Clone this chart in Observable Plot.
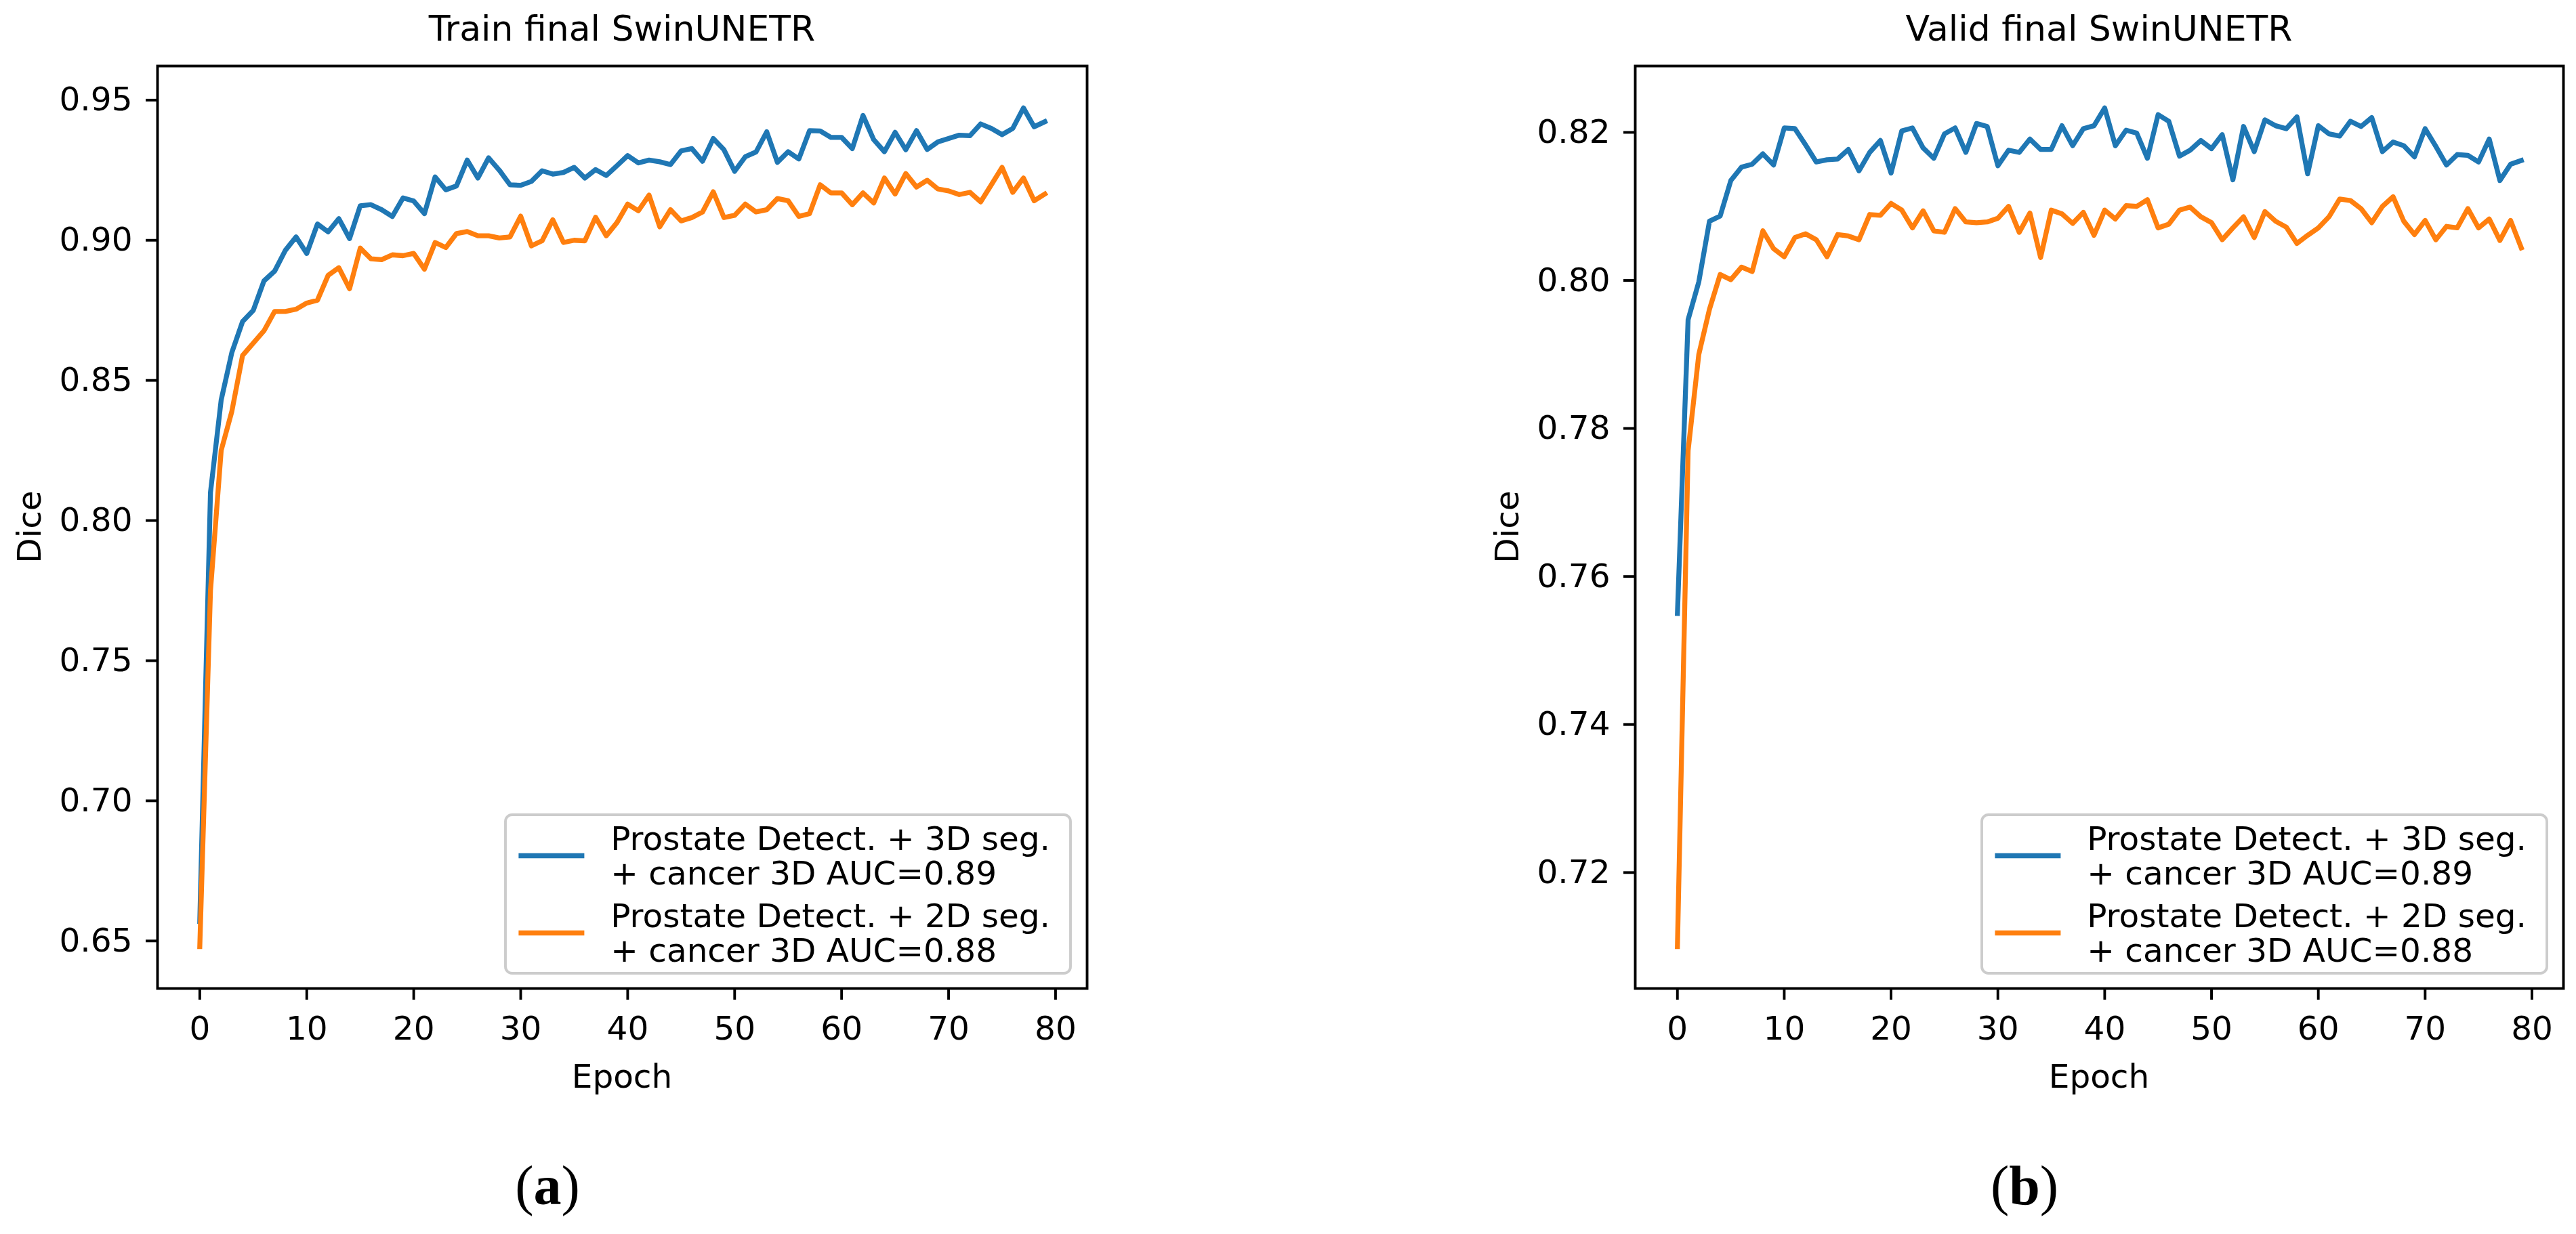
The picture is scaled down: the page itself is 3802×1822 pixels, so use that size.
<!DOCTYPE html>
<html>
<head>
<meta charset="utf-8">
<script src="https://cdn.jsdelivr.net/npm/d3@7"></script>
<script src="https://cdn.jsdelivr.net/npm/@observablehq/plot@0.6"></script>
<style>
  html, body { margin: 0; padding: 0; background: #ffffff; }
  #page { position: relative; width: 3802px; height: 1822px; overflow: hidden; background: #ffffff; font-family: "DejaVu Sans", sans-serif; }
  .panel { position: absolute; top: 0; }
  #overlay { position: absolute; left: 0; top: 0; }
</style>
</head>
<body>
<div id="page"></div>
<script>
// ---------------- DATA ----------------
const panelTitles = ["Train final SwinUNETR", "Valid final SwinUNETR"];
const captions = ["a", "b"];
const yLabel = "Dice";
const xLabel = "Epoch";
const seriesLabels = [
  ["Prostate Detect. + 3D seg.", "+ cancer 3D AUC=0.89"],
  ["Prostate Detect. + 2D seg.", "+ cancer 3D AUC=0.88"]
];
const seriesColors = ["#1f77b4", "#ff7f0e"];
const xTicks = [0, 10, 20, 30, 40, 50, 60, 70, 80];
const trainYTicks = [0.65, 0.70, 0.75, 0.80, 0.85, 0.90, 0.95];
const validYTicks = [0.72, 0.74, 0.76, 0.78, 0.80, 0.82];

// Train, 3D seg (blue), epochs 0..79
const trainDice3D = [
  0.657, 0.810, 0.843, 0.860, 0.871, 0.875, 0.8855, 0.889, 0.8964, 0.9012,
  0.8953, 0.9058, 0.903, 0.9077, 0.9006, 0.9123, 0.9127, 0.9109, 0.9085, 0.9151,
  0.914, 0.9095, 0.9226, 0.918, 0.9194, 0.9286, 0.9222, 0.9294, 0.925, 0.9198,
  0.9196, 0.921, 0.9248, 0.9236, 0.9242, 0.926, 0.9222, 0.9252, 0.9231, 0.9266,
  0.9302, 0.9276, 0.9286, 0.9280, 0.9270, 0.9319, 0.9327, 0.9282, 0.9363, 0.9323,
  0.9246, 0.9298, 0.9315, 0.9387, 0.9278, 0.9316, 0.9290, 0.9391, 0.9390, 0.9367,
  0.9367, 0.9327, 0.9445, 0.9359, 0.9316, 0.9385, 0.9323, 0.9391, 0.9324, 0.9351,
  0.9363, 0.9375, 0.9373, 0.9415, 0.9399, 0.9377, 0.9399, 0.9472, 0.9405, 0.9423
];
// Train, 2D seg (orange)
const trainDice2D = [
  0.648, 0.775, 0.825, 0.839, 0.8589, 0.8633, 0.8677, 0.8746, 0.8746, 0.8754,
  0.8776, 0.8786, 0.8875, 0.8902, 0.8827, 0.8972, 0.8934, 0.8931, 0.8948, 0.8945,
  0.8953, 0.8897, 0.8992, 0.8974, 0.9024, 0.9031, 0.9016, 0.9016, 0.9008, 0.9012,
  0.9086, 0.898, 0.8998, 0.9073, 0.8992, 0.900, 0.8998, 0.9082, 0.9016, 0.9063,
  0.9129, 0.9105, 0.9161, 0.9048, 0.9109, 0.9069, 0.9081, 0.9101, 0.9173, 0.9081,
  0.9089, 0.9129, 0.9101, 0.9109, 0.9149, 0.9141, 0.9085, 0.9095, 0.9198, 0.9169,
  0.9169, 0.9127, 0.9169, 0.9133, 0.9222, 0.9165, 0.9238, 0.9190, 0.9214, 0.9183,
  0.9176, 0.9163, 0.9171, 0.9137, 0.9198, 0.9260, 0.9171, 0.9222, 0.9141, 0.9165
];
// Valid, 3D seg (blue)
const validDice3D = [
  0.755, 0.7947, 0.7998, 0.8080, 0.8087, 0.8135, 0.8153, 0.8157, 0.8171, 0.8156,
  0.8206, 0.8205, 0.8183, 0.8160, 0.8163, 0.8164, 0.8177, 0.8148, 0.8173, 0.8189,
  0.8145, 0.8202, 0.8206, 0.8179, 0.8165, 0.8198, 0.8206, 0.8173, 0.8212, 0.8208,
  0.8155, 0.8176, 0.8173, 0.8191, 0.8177, 0.8177, 0.8209, 0.8182, 0.8205, 0.8209,
  0.8233, 0.8182, 0.8203, 0.8199, 0.8165, 0.8224, 0.8215, 0.8168, 0.8176, 0.8189,
  0.8178, 0.8197, 0.8136, 0.8208, 0.8174, 0.8217, 0.8209, 0.8205, 0.8221, 0.8144,
  0.8209, 0.8198, 0.8195, 0.8215, 0.8208, 0.8220, 0.8174, 0.8187, 0.8182, 0.8167,
  0.8205, 0.8181, 0.8156, 0.8170, 0.8169, 0.8160, 0.8191, 0.8135, 0.8157, 0.8162
];
// Valid, 2D seg (orange)
const validDice2D = [
  0.710, 0.777, 0.790, 0.7961, 0.8008, 0.8001, 0.8018, 0.8012, 0.8067, 0.8043,
  0.8032, 0.8058, 0.8063, 0.8055, 0.8032, 0.8062, 0.8060, 0.8055, 0.8089, 0.8088,
  0.8104, 0.8095, 0.8071, 0.8094, 0.8067, 0.8065, 0.8097, 0.8079, 0.8078, 0.8079,
  0.8084, 0.8100, 0.8065, 0.8091, 0.8031, 0.8095, 0.8090, 0.8077, 0.8092, 0.8061,
  0.8095, 0.8083, 0.8101, 0.8100, 0.8109, 0.8071, 0.8076, 0.8095, 0.8099, 0.8086,
  0.8078, 0.8055, 0.8071, 0.8086, 0.8058, 0.8093, 0.8080, 0.8072, 0.8050, 0.8061,
  0.8071, 0.8086, 0.8110, 0.8108, 0.8097, 0.8078, 0.8100, 0.8113, 0.8080, 0.8062,
  0.8081, 0.8055, 0.8073, 0.8071, 0.8097, 0.8071, 0.8083, 0.8054, 0.8081, 0.8044
];

// ---------------- LAYOUT / STYLE ----------------
const FONT = 48.5, TITLE_FONT = 52, LINE_W = 7.3, SPINE_W = 3.9, TICK_LEN = 17;
const FRAME_T = 97, FRAME_B = 1459;
const panels = [
  { svgLeft: 0,    svgWidth: 1750, frameL: 232,  frameR: 1604, series: [trainDice3D, trainDice2D], yTicks: trainYTicks },
  { svgLeft: 2150, svgWidth: 1652, frameL: 2413, frameR: 3783, series: [validDice3D, validDice2D], yTicks: validYTicks }
];
const PAGE_W = 3802, PAGE_H = 1822;

function paddedExtent(values) {
  const [a, b] = d3.extent(values);
  const p = (b - a) * 0.05;
  return [a - p, b + p];
}

const page = document.getElementById("page");

panels.forEach((pn, pi) => {
  const rows = [];
  pn.series.forEach((vals, si) => vals.forEach((v, i) => rows.push({ epoch: i, dice: v, s: si })));
  const xDomain = paddedExtent(rows.map(r => r.epoch));
  const yDomain = paddedExtent(rows.map(r => r.dice));

  const chart = Plot.plot({
    width: pn.svgWidth,
    height: PAGE_H,
    marginLeft: pn.frameL - pn.svgLeft,
    marginRight: pn.svgLeft + pn.svgWidth - pn.frameR,
    marginTop: FRAME_T,
    marginBottom: PAGE_H - FRAME_B,
    style: { fontFamily: "DejaVu Sans, sans-serif", fontSize: FONT + "px", color: "#000", background: "transparent", overflow: "visible" },
    x: { domain: xDomain, nice: false, label: null },
    y: { domain: yDomain, nice: false, label: null },
    marks: [
      ...pn.series.map((vals, si) => Plot.line(rows.filter(r => r.s === si), {
        x: "epoch", y: "dice", stroke: seriesColors[si], strokeWidth: LINE_W,
        strokeLinejoin: "round", strokeLinecap: "square"
      })),
      Plot.axisX({ ticks: xTicks, tickSize: TICK_LEN, tickPadding: 24, strokeWidth: SPINE_W, label: null, tickFormat: d => String(d), fontSize: FONT }),
      Plot.axisY({ ticks: pn.yTicks, tickSize: TICK_LEN, tickPadding: 20, strokeWidth: SPINE_W, label: null, tickFormat: d3.format(".2f"), fontSize: FONT }),
      Plot.frame({ stroke: "#000", strokeWidth: SPINE_W })
    ]
  });
  const wrap = document.createElement("div");
  wrap.className = "panel";
  wrap.style.left = pn.svgLeft + "px";
  wrap.appendChild(chart);
  page.appendChild(wrap);
});

// ---------------- OVERLAY TEXT & LEGENDS ----------------
const NS = "http://www.w3.org/2000/svg";
const ov = document.createElementNS(NS, "svg");
ov.setAttribute("id", "overlay");
ov.setAttribute("width", PAGE_W);
ov.setAttribute("height", PAGE_H);
ov.setAttribute("font-family", "DejaVu Sans, sans-serif");
page.appendChild(ov);

function el(name, attrs, parent) {
  const e = document.createElementNS(NS, name);
  for (const k in attrs) e.setAttribute(k, attrs[k]);
  (parent || ov).appendChild(e);
  return e;
}
function txt(str, attrs) {
  const t = el("text", attrs);
  t.textContent = str;
  return t;
}

panels.forEach((pn, pi) => {
  const cx = (pn.frameL + pn.frameR) / 2;
  // title
  txt(panelTitles[pi], { x: cx, y: FRAME_T - 37, "text-anchor": "middle", "font-size": TITLE_FONT, fill: "#000" });
  // y label
  const yl = pn.frameL - 172, ym = (FRAME_T + FRAME_B) / 2;
  txt(yLabel, { x: 0, y: 0, transform: `translate(${yl},${ym}) rotate(-90)`, "text-anchor": "middle", "font-size": FONT, fill: "#000" });
  // x label
  txt(xLabel, { x: cx, y: FRAME_B + 147, "text-anchor": "middle", "font-size": FONT, fill: "#000" });
  // caption
  const cap = el("text", { x: cx - 110, y: 1778, "text-anchor": "middle", "font-size": 82, "font-family": "Liberation Serif, serif", fill: "#000" });
  const t1 = el("tspan", {}, cap); t1.textContent = "(";
  const t2 = el("tspan", { "font-weight": "bold" }, cap); t2.textContent = captions[pi];
  const t3 = el("tspan", {}, cap); t3.textContent = ")";

  // legend
  const boxW = 834, boxH = 234;
  const boxR = pn.frameR - 24, boxB = FRAME_B - 22;
  const boxL = boxR - boxW, boxT = boxB - boxH;
  el("rect", { x: boxL, y: boxT, width: boxW, height: boxH, rx: 9.7, ry: 9.7, fill: "#fff", "fill-opacity": 0.8, stroke: "#cccccc", "stroke-width": SPINE_W });
  const pad = 0.4 * FONT, handleLen = 2 * FONT, handleGap = 0.8 * FONT;
  const linePitch = 51, entryPitch = 114, firstBase = boxT + 52;
  seriesLabels.forEach((lines, si) => {
    const b1 = firstBase + si * entryPitch;
    const hy = b1 + linePitch / 2 - 17;
    el("line", { x1: boxL + pad, x2: boxL + pad + handleLen, y1: hy, y2: hy, stroke: seriesColors[si], "stroke-width": LINE_W });
    lines.forEach((s, li) => {
      txt(s, { x: boxL + pad + handleLen + handleGap, y: b1 + li * linePitch, "font-size": FONT, fill: "#000" });
    });
  });
});
</script>
</body>
</html>
